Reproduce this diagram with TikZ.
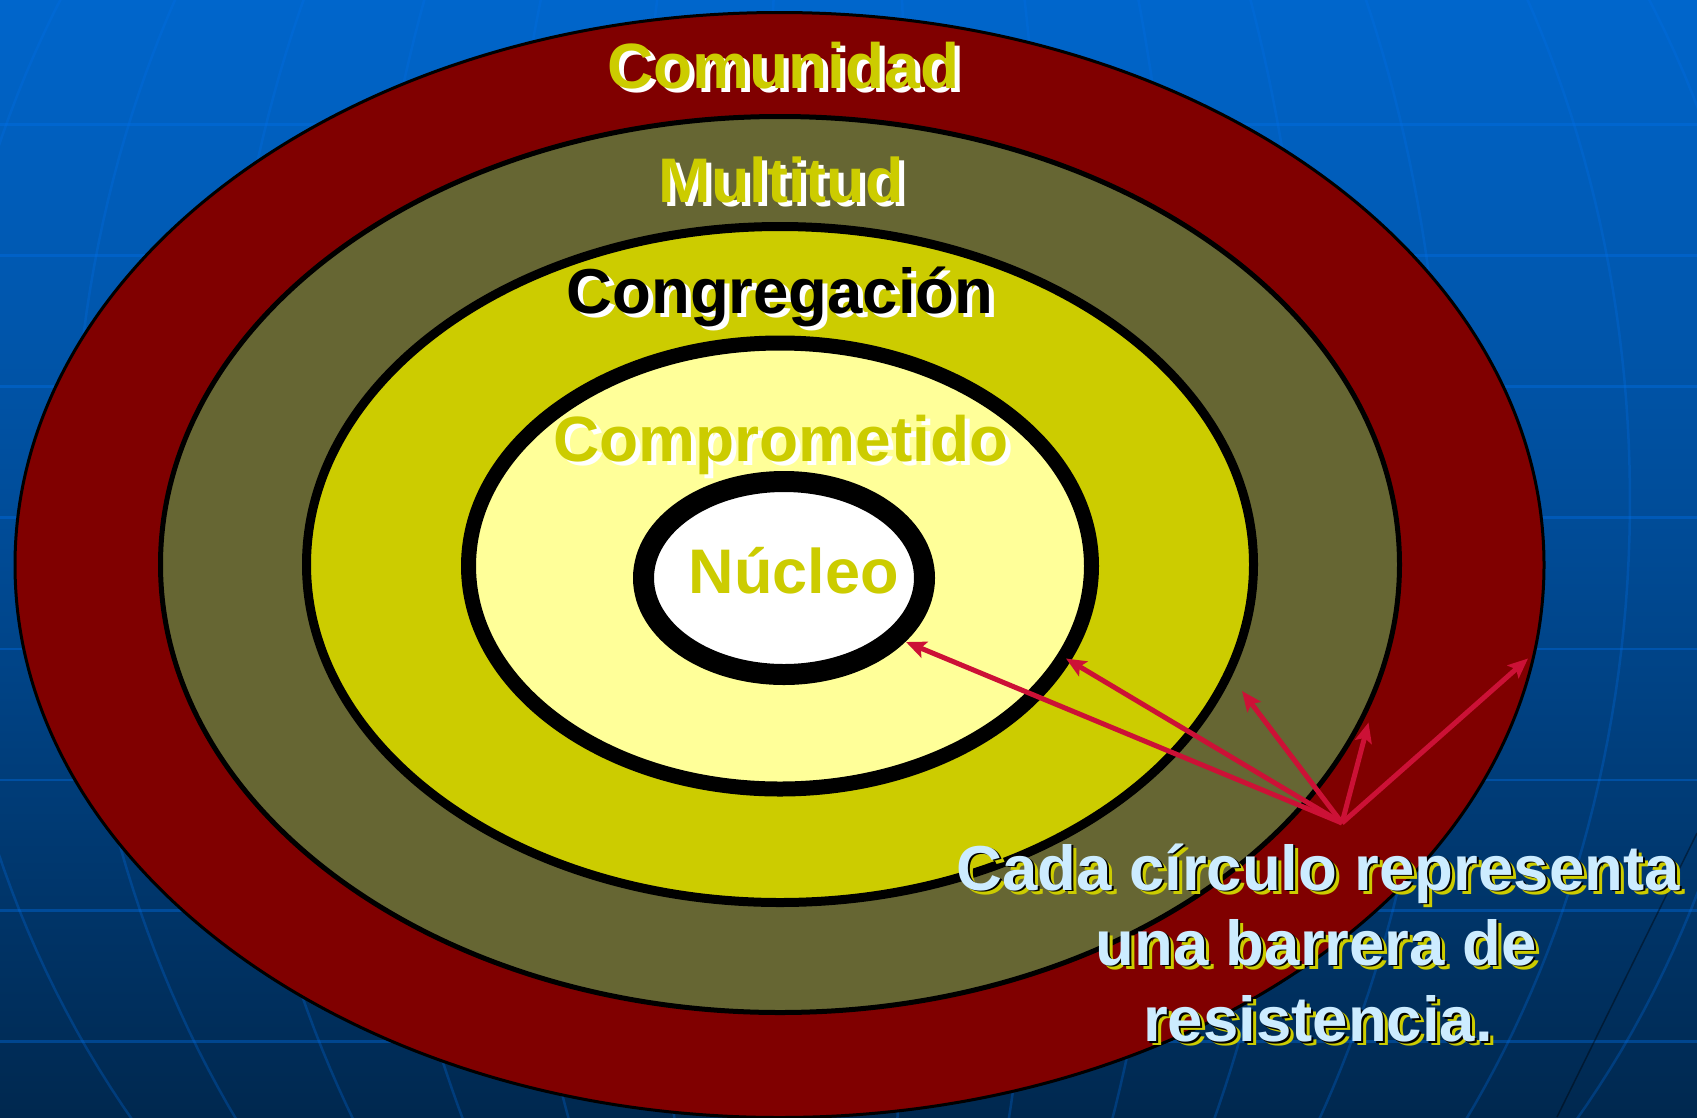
\documentclass[tikz,border=0pt]{standalone}
\usepackage{fontspec}
\setmainfont{Liberation Sans}
\usetikzlibrary{shapes.geometric, arrows.meta}
\definecolor{bgtop}{HTML}{0066CC}
\definecolor{bgmid}{HTML}{004A94}
\definecolor{bgbot}{HTML}{00284F}
\definecolor{gridc}{HTML}{0070EA}
\definecolor{comred}{HTML}{800000}
\definecolor{multol}{HTML}{666633}
\definecolor{congy}{HTML}{CCCC00}
\definecolor{compy}{HTML}{FFFF99}
\definecolor{arrowc}{HTML}{CC1136}
\definecolor{notec}{HTML}{CCECFF}
\newcommand{\shtext}[3]{\makebox[0pt][l]{\hspace{5pt}\raisebox{-4pt}{\textcolor{#1}{#3}}}\textcolor{#2}{#3}}
\newcommand{\notetext}[1]{\makebox[0pt][l]{\hspace{5pt}\raisebox{-4pt}{\textcolor{congy}{#1}}}\makebox[0pt][l]{\hspace{2pt}\raisebox{-1.5pt}{\textcolor{black}{#1}}}\textcolor{notec}{#1}}
\begin{document}
\begin{tikzpicture}[x=1pt,y=-1pt,
  gridline/.style={draw=gridc, line width=2.5pt, opacity=0.38},
  meridian/.style={draw=gridc, line width=2.5pt, opacity=0.28},
  ring/.style={ellipse, draw=black, inner sep=0pt, outer sep=0pt},
  lbl/.style={inner sep=0pt, outer sep=0pt, anchor=base, font=\bfseries},
  arr/.style={draw=arrowc, line width=5pt, -{Stealth[length=20pt,width=17pt,inset=4pt]}}]
\useasboundingbox (0,0) rectangle (1697,1117);
\shade[top color=bgtop, bottom color=bgbot, middle color=bgmid] (0,0) rectangle (1697,1117);
\begin{scope}
  \clip (0,0) rectangle (1697,1117);
  \foreach \yy in {124.5,255.5,386.5,517.5,649,780,910.5,1041.5}
    \draw[gridline] (0,\yy) -- (1697,\yy);
  \foreach \a in {-909,-777,-629,-490,-356,-222,-88,60,201,332,461,594,780,920}
    \draw[meridian] plot[domain=-34:42, samples=60, variable=\t] ({850+\a*cos(\t)},{500+1010*sin(\t)});
  \draw[line width=1.5pt, black, opacity=0.4] (1697,833) -- (1557,1117);
\end{scope}
% rings
\node[ring, fill=comred, line width=3pt, minimum width=1529pt, minimum height=1105pt] (comunidad) at (779.5,565) {};
\node[ring, fill=multol, line width=5pt, minimum width=1239pt, minimum height=896pt] (multitud) at (780,564.5) {};
\node[ring, fill=congy, line width=9pt, minimum width=947pt, minimum height=676pt] (congregacion) at (780,564.5) {};
\node[ring, fill=compy, line width=15pt, minimum width=623pt, minimum height=446pt] (comprometido) at (780,566) {};
\node[ring, fill=white, line width=21pt, minimum width=281pt, minimum height=193pt] (nucleo) at (784,578) {};
% labels
\node[lbl] (t-comunidad) at (783.5,88) {\fontsize{64}{70}\selectfont\shtext{white}{congy}{Comunidad}};
\node[lbl] (t-multitud) at (781,202) {\fontsize{63}{70}\selectfont\shtext{white}{congy}{Multitud}};
\node[lbl] (t-congregacion) at (780,313) {\fontsize{63.5}{70}\selectfont\shtext{white}{black}{Congregación}};
\node[lbl] (t-comprometido) at (781,461.5) {\fontsize{64}{70}\selectfont\shtext{white}{congy}{Comprometido}};
\node[lbl] (t-nucleo) at (794,593) {\fontsize{63}{70}\selectfont\textcolor{congy}{Núcleo}};
% arrows
\coordinate (src) at (1342,823);
\coordinate (tip1) at (906,642);
\coordinate (tip2) at (1066,658.5);
\coordinate (tip3) at (1242,691);
\coordinate (tip4) at (1368.5,722.5);
\coordinate (tip5) at (1528,658.5);
\foreach \k in {1,...,5} \draw[arr] (src) -- (tip\k);
% note
\node[lbl] (note1) at (1318,890) {\fontsize{63.5}{70}\selectfont\notetext{Cada círculo representa}};
\node[lbl] (note2) at (1316,965) {\fontsize{63.5}{70}\selectfont\notetext{una barrera de}};
\node[lbl] (note3) at (1318,1041.5) {\fontsize{63.5}{70}\selectfont\notetext{resistencia.}};
\end{tikzpicture}
\end{document}
